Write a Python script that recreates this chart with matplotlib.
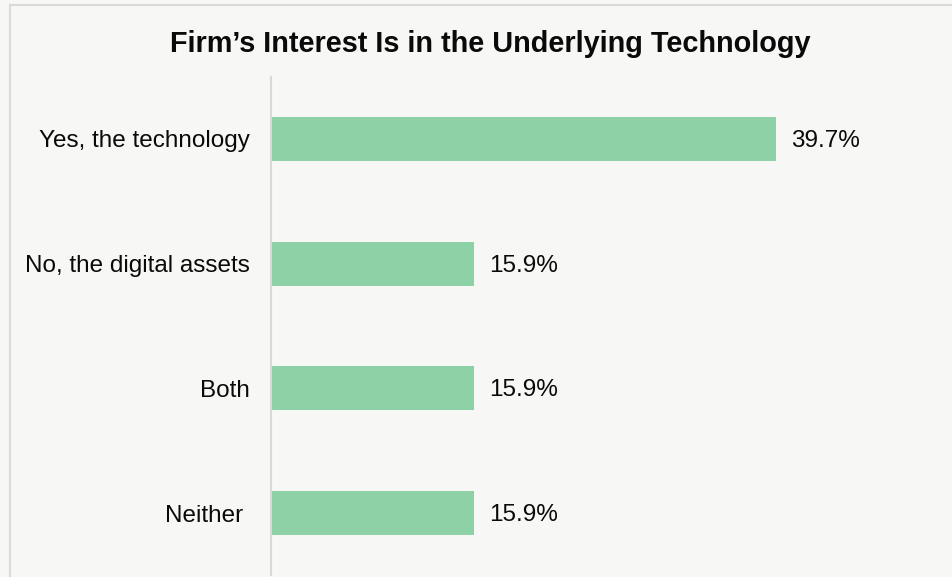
import matplotlib
matplotlib.use("Agg")
import matplotlib.pyplot as plt
from matplotlib.lines import Line2D

categories = ["Yes, the technology", "No, the digital assets", "Both", "Neither "]
values = [39.7, 15.9, 15.9, 15.9]
value_labels = ["39.7%", "15.9%", "15.9%", "15.9%"]
title = "Firm\u2019s Interest Is in the Underlying Technology"

W, H = 953, 577
bg = "#f7f7f5"
bar_color = "#8fd1a6"
grid_color = "#d9d9d9"

plt.rcParams['font.family'] = ['Liberation Sans', 'DejaVu Sans']

fig = plt.figure(figsize=(W / 100, H / 100), dpi=100)
fig.patch.set_facecolor(bg)

# border frame (top and left visible)
fig.add_artist(Line2D([10 / W, 1.0], [1 - 5 / H, 1 - 5 / H], color=grid_color, lw=1.5, transform=fig.transFigure))
fig.add_artist(Line2D([10 / W, 10 / W], [0, 1 - 5 / H], color=grid_color, lw=1.5, transform=fig.transFigure))

left = 271.5 / W
right = 940 / W
top = 1 - 76.6 / H
bottom = 1 - 575.4 / H
ax = fig.add_axes([left, bottom, right - left, top - bottom])
ax.set_facecolor(bg)

xmax = (940 - 271.5) / 12.72
ypos = list(range(len(categories)))
ax.barh(ypos, values, height=0.353, color=bar_color, edgecolor="none")
ax.set_ylim(len(categories) - 0.5, -0.5)
ax.set_xlim(0, xmax)

for y, v, lab in zip(ypos, values, value_labels):
    ax.text(v + 15 / 12.72, y + 0.015, lab, va="center", ha="left", fontsize=17.5, color="#0a0a0a")

ax.set_yticks(ypos)
ax.set_yticklabels(categories, fontsize=17.5, color="#0a0a0a")
ax.tick_params(axis="y", length=0, pad=15.8)
ax.set_xticks([])
for s in ["top", "right", "bottom"]:
    ax.spines[s].set_visible(False)
ax.spines["left"].set_color(grid_color)
ax.spines["left"].set_linewidth(1.5)

fig.text(490 / W, 1 - 52 / H, title, ha="center", va="baseline", fontsize=20.8, fontweight="bold", color="#0a0a0a")

fig.savefig("out.png", dpi=100, facecolor=bg)
